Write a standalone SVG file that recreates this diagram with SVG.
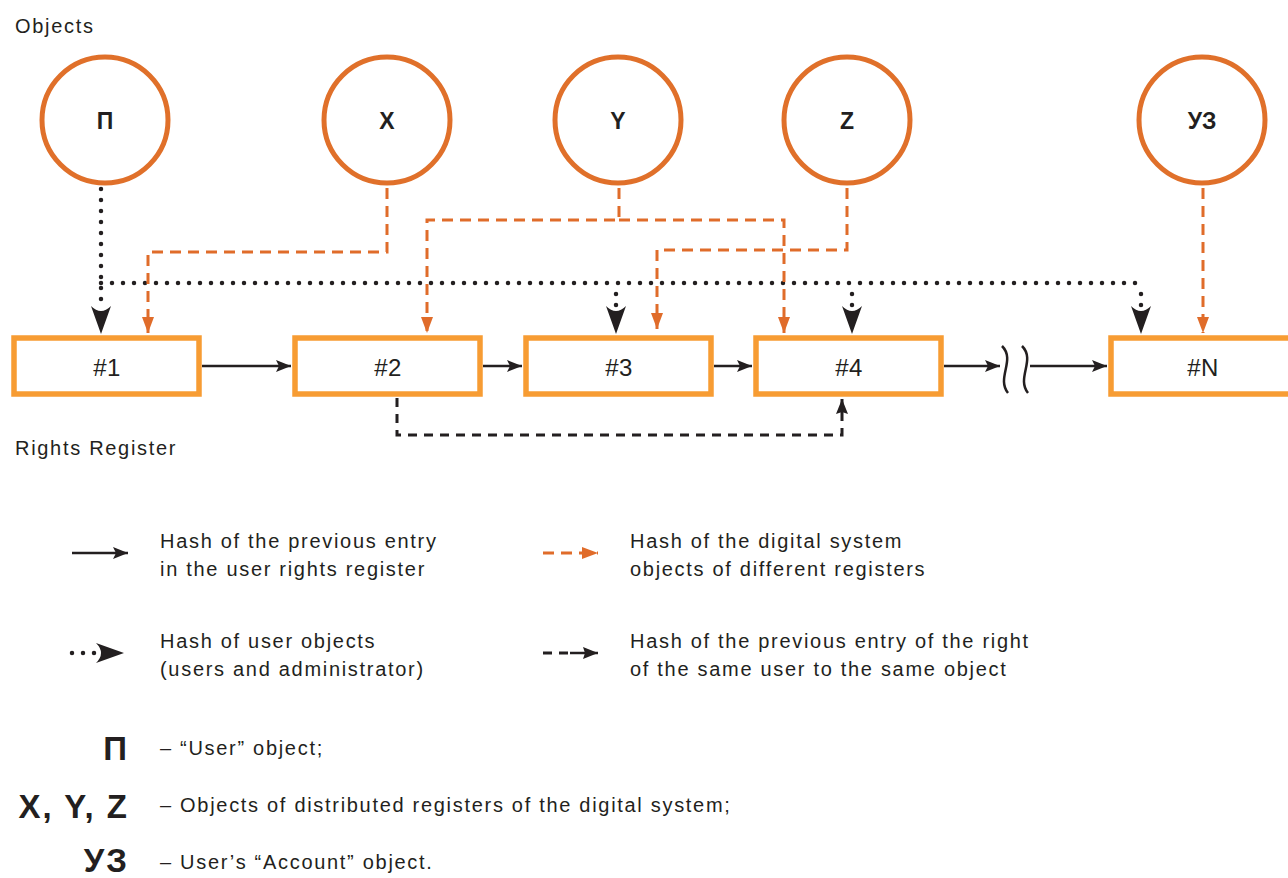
<svg xmlns="http://www.w3.org/2000/svg" width="1288" height="878" viewBox="0 0 1288 878">
  <style>
    .lbl { font-family: "Liberation Sans", Arial, sans-serif; font-size: 20px; fill: #231f20; letter-spacing: 1.7px; }
    .obj { fill: #fff; stroke: #e0702a; stroke-width: 5; }
    .objt { font-family: "Liberation Sans", Arial, sans-serif; font-size: 23px; font-weight: bold; fill: #231f20; text-anchor: middle; }
    .box { fill: #fff; stroke: #f79c33; stroke-width: 5.5; }
    .boxt { font-family: "Liberation Sans", Arial, sans-serif; font-size: 24px; fill: #231f20; text-anchor: middle; letter-spacing: 0.5px; }
    .solid { fill: none; stroke: #231f20; stroke-width: 2.5; }
    .dot { fill: none; stroke: #231f20; stroke-width: 4.5; stroke-linecap: round; stroke-dasharray: 0 11; }
    .odash { fill: none; stroke: #e06c2a; stroke-width: 3; stroke-dasharray: 11 7; }
    .kdash { fill: none; stroke: #231f20; stroke-width: 3; stroke-dasharray: 9 7; }
    .big { font-family: "Liberation Sans", Arial, sans-serif; font-size: 33px; font-weight: bold; fill: #231f20; text-anchor: end; letter-spacing: 2px; }
  </style>
  <defs>
    <marker id="ah" viewBox="0 0 15 12" refX="15" refY="6" markerWidth="15" markerHeight="12" markerUnits="userSpaceOnUse" orient="auto">
      <path d="M0,0 L15,6 L0,12 L3,6 Z" fill="#231f20"/>
    </marker>
    <marker id="ahO" viewBox="0 0 16 12" refX="16" refY="6" markerWidth="16" markerHeight="12" markerUnits="userSpaceOnUse" orient="auto">
      <path d="M0,0 L16,6 L0,12 Z" fill="#e06c2a"/>
    </marker>
    <marker id="ahK" viewBox="0 0 15 12" refX="15" refY="6" markerWidth="15" markerHeight="12" markerUnits="userSpaceOnUse" orient="auto">
      <path d="M0,0 L15,6 L0,12 L2,6 Z" fill="#231f20"/>
    </marker>
    <!-- wide notched head used by the user-object (dotted) links -->
    <path id="bigHead" d="M0,0 L-10,-28 Q0,-18 10,-28 Z" fill="#231f20"/>
  </defs>

  <rect width="1288" height="878" fill="#fff"/>

  <text class="lbl" x="15" y="33">Objects</text>
  <text class="lbl" x="15" y="455">Rights Register</text>

  <!-- connectors -->
  <g id="connectors">
    <!-- previous-entry hashes -->
    <line class="solid" x1="202" y1="366" x2="291" y2="366" marker-end="url(#ah)"/>
    <line class="solid" x1="483" y1="366" x2="522" y2="366" marker-end="url(#ah)"/>
    <line class="solid" x1="714" y1="366" x2="752" y2="366" marker-end="url(#ah)"/>
    <line class="solid" x1="944" y1="366" x2="1000" y2="366" marker-end="url(#ah)"/>
    <line class="solid" x1="1030" y1="366" x2="1107" y2="366" marker-end="url(#ah)"/>
    <!-- gap in the chain -->
    <path class="solid" d="M1002,346 C1016,360 996,378 1008,393"/>
    <path class="solid" d="M1022,346 C1036,360 1016,378 1028,393"/>

    <!-- user-object hashes -->
    <path class="dot" d="M101,189 L101,303"/>
    <path class="dot" d="M101,283 L1141,283"/>
    <path class="dot" d="M616,294 L616,306"/>
    <path class="dot" d="M852,294 L852,306"/>
    <path class="dot" d="M1141,294 L1141,306"/>
    <use href="#bigHead" x="101" y="334"/>
    <use href="#bigHead" x="616" y="334"/>
    <use href="#bigHead" x="852" y="334"/>
    <use href="#bigHead" x="1141" y="334"/>

    <!-- object hashes from other registers -->
    <path class="odash" d="M387,188 L387,252 L148,252 L148,333" marker-end="url(#ahO)"/>
    <path class="odash" d="M619,188 L619,220 L427,220 L427,333" marker-end="url(#ahO)"/>
    <path class="odash" d="M619,220 L784,220 L784,333" marker-end="url(#ahO)"/>
    <path class="odash" d="M847,188 L847,250 L657,250 L657,329" marker-end="url(#ahO)"/>
    <path class="odash" d="M1203,188 L1203,333" marker-end="url(#ahO)"/>

    <!-- same user, same object -->
    <path class="kdash" d="M397,398 L397,435 L842,435 L842,399" marker-end="url(#ahK)"/>
  </g>

  <!-- objects -->
  <g id="obj-P"><circle class="obj" cx="105" cy="120" r="63"/><text class="objt" x="105" y="129">П</text></g>
  <g id="obj-X"><circle class="obj" cx="387" cy="120" r="63"/><text class="objt" x="387" y="129">X</text></g>
  <g id="obj-Y"><circle class="obj" cx="618" cy="120" r="63"/><text class="objt" x="618" y="129">Y</text></g>
  <g id="obj-Z"><circle class="obj" cx="847" cy="120" r="63"/><text class="objt" x="847" y="129">Z</text></g>
  <g id="obj-UZ"><circle class="obj" cx="1202" cy="120" r="63"/><text class="objt" x="1202" y="129">УЗ</text></g>

  <!-- register entries -->
  <g id="entry-1"><rect class="box" x="14" y="338" width="185" height="56"/><text class="boxt" x="107" y="376">#1</text></g>
  <g id="entry-2"><rect class="box" x="295" y="338" width="185" height="56"/><text class="boxt" x="388" y="376">#2</text></g>
  <g id="entry-3"><rect class="box" x="526" y="338" width="185" height="56"/><text class="boxt" x="619" y="376">#3</text></g>
  <g id="entry-4"><rect class="box" x="756" y="338" width="185" height="56"/><text class="boxt" x="849" y="376">#4</text></g>
  <g id="entry-N"><rect class="box" x="1111" y="338" width="185" height="56"/><text class="boxt" x="1203" y="376">#N</text></g>

  <!-- legend -->
  <g id="legend">
    <line class="solid" x1="72" y1="553" x2="128" y2="553" marker-end="url(#ah)"/>
    <text class="lbl" x="160" y="548">Hash of the previous entry</text>
    <text class="lbl" x="160" y="576">in the user rights register</text>

    <path class="odash" d="M543,553 L598,553" stroke-dasharray="14 13" marker-end="url(#ahO)"/>
    <text class="lbl" x="630" y="548">Hash of the digital system</text>
    <text class="lbl" x="630" y="576">objects of different registers</text>

    <path class="dot" d="M72,653 L100,653"/>
    <g transform="translate(124,653) rotate(-90)"><use href="#bigHead"/></g>
    <text class="lbl" x="160" y="648">Hash of user objects</text>
    <text class="lbl" x="160" y="676">(users and administrator)</text>

    <path class="kdash" d="M543,653 L570,653" stroke-dasharray="14 13"/>
    <line class="solid" x1="570" y1="653" x2="598" y2="653" stroke-width="3" marker-end="url(#ahK)"/>
    <text class="lbl" x="630" y="648">Hash of the previous entry of the right</text>
    <text class="lbl" x="630" y="676">of the same user to the same object</text>

    <text class="big" x="129" y="760">П</text>
    <text class="lbl" x="160" y="755">– “User” object;</text>
    <text class="big" x="129" y="818">X, Y, Z</text>
    <text class="lbl" x="160" y="812">– Objects of distributed registers of the digital system;</text>
    <text class="big" x="129" y="872">УЗ</text>
    <text class="lbl" x="160" y="869">– User’s “Account” object.</text>
  </g>
</svg>
